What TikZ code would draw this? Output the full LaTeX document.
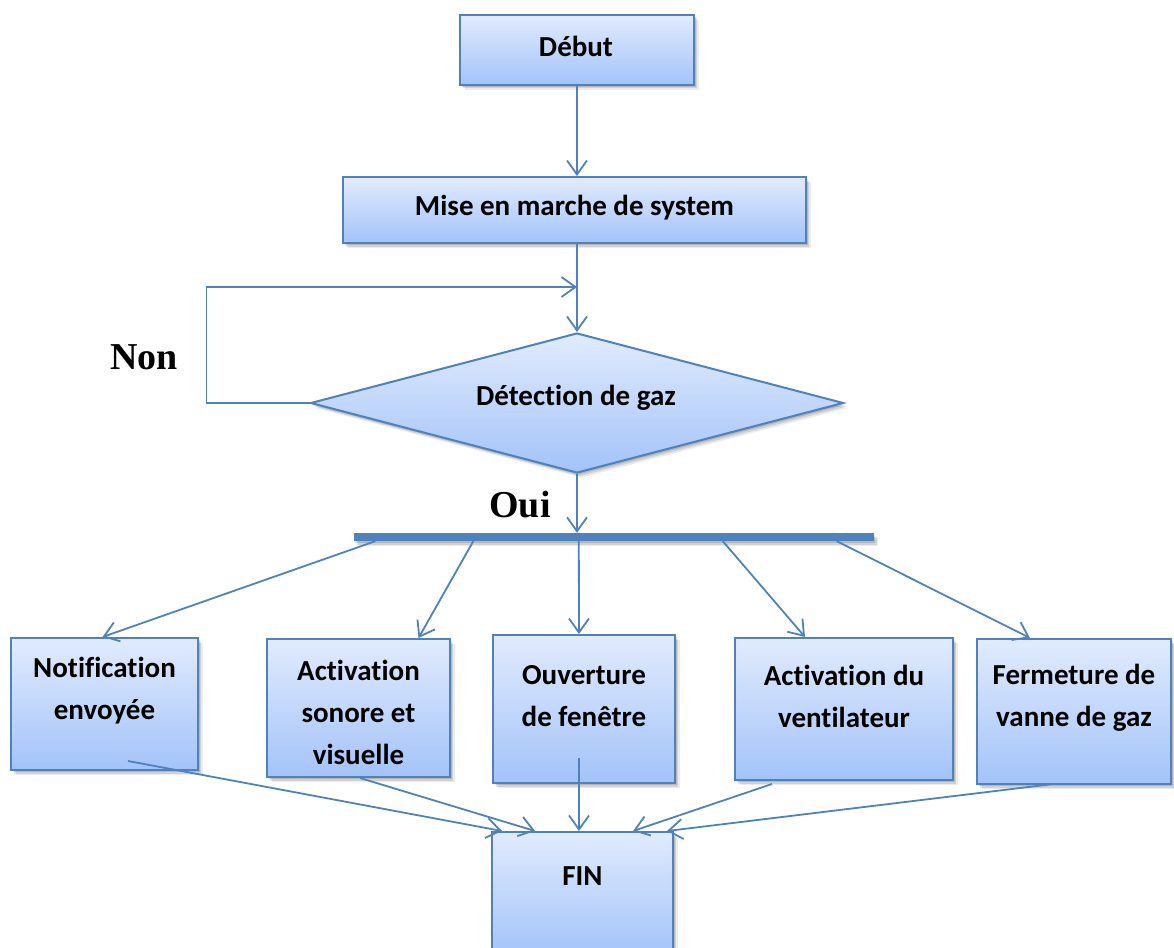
\documentclass[tikz,border=0pt]{standalone}
\usepackage{fontspec}
\setmainfont{Carlito}[Ligatures={NoCommon}]
\newfontfamily\serifword{Liberation Serif}
\usetikzlibrary{arrows.meta,shapes.geometric,shadows,calc}

\definecolor{edge}{RGB}{79,129,189}
\definecolor{filltop}{RGB}{225,235,253}
\definecolor{fillbot}{RGB}{163,195,249}

\tikzset{
  softshadow/.style={
    drop shadow={opacity=.13,shadow xshift=1.5pt,shadow yshift=-2pt,fill=black},
    drop shadow={opacity=.11,shadow xshift=3pt,shadow yshift=-3.5pt,fill=black},
    drop shadow={opacity=.08,shadow xshift=4.5pt,shadow yshift=-5pt,fill=black}},
  box/.style={rectangle,draw=edge,line width=2pt,top color=filltop,bottom color=fillbot,
    inner sep=0pt,softshadow},
  decision/.style={diamond,draw=edge,line width=2pt,top color=filltop,bottom color=fillbot,
    inner sep=0pt,softshadow},
  boxtext/.style={font=\bfseries\fontsize{29}{42}\selectfont,align=center,text=black,inner sep=0pt},
  bigword/.style={font=\serifword\bfseries\fontsize{38}{44}\selectfont,text=black,inner sep=0pt},
  conn/.style={draw=edge,line width=1.8pt},
  arr/.style={conn,-{Straight Barb[length=14pt,width=20pt]}},
}

\begin{document}
\begin{tikzpicture}[x=1pt,y=-1pt]
\useasboundingbox (0,0) rectangle (1174,947);

% boxes
\node[box,minimum width=234pt,minimum height=70pt] (debut) at (577,50) {};
\node[box,minimum width=463pt,minimum height=66pt] (mise) at (574.5,210) {};
\node[decision,minimum width=533pt,minimum height=140pt] (det) at (577,403) {};
\node[rectangle,fill=edge,minimum width=520pt,minimum height=8pt,inner sep=0pt,softshadow] (bar) at (613.5,537) {};
\node[box,minimum width=187pt,minimum height=132pt] (notif) at (104.5,704) {};
\node[box,minimum width=183pt,minimum height=138pt] (act) at (358.5,708) {};
\node[box,minimum width=182pt,minimum height=148pt] (ouv) at (584,709) {};
\node[box,minimum width=218pt,minimum height=142pt] (vent) at (844,709) {};
\node[box,minimum width=194pt,minimum height=145pt] (ferm) at (1074,711.5) {};
\node[box,minimum width=181pt,minimum height=124pt] (fin) at (582.5,894) {};

% texts
\node[boxtext] (tdebut) at (576,46) {Début};
\node[boxtext] (tmise) at (574.5,208) {Mise en marche de system};
\node[boxtext] (tdet) at (576,398) {Détection de gaz};
\node[boxtext] (tnotif) at (104.5,691) {Notification\\envoyée};
\node[boxtext] (tact) at (358.5,712) {Activation\\sonore et\\visuelle};
\node[boxtext] (touv) at (584,696) {Ouverture\\de fenêtre};
\node[boxtext] (tvent) at (844,696) {Activation du\\ventilateur};
\node[boxtext] (tferm) at (1074,698) {Fermeture de\\vanne de gaz};
\node[boxtext] (tfin) at (582.5,876) {FIN};
\node[bigword] (tnon) at (144,357) {Non};
\node[bigword] (toui) at (520,505) {Oui};

% main flow
\coordinate (merge) at (577,287);
\draw[arr] (debut.south) -- (debut.south |- mise.north);
\draw[arr] (det.north |- mise.south) -- (det.north);
\draw[arr] (det.west) -- ++(-103,0) |- (merge);
\draw[arr] (det.south) -- (det.south |- bar.north);

% fan-out from the bar
\draw[arr] ($(bar.south west)+(22,0)$) -- ($(notif.north)+(-2,0)$);
\draw[arr] ($(bar.south west)+(120,0)$) -- ($(act.north)+(60,0)$);
\draw[arr] ($(bar.south west)+(225.5,0)$) -- ($(ouv.north)+(-5,0)$);
\draw[arr] ($(bar.south west)+(369.5,0)$) -- ($(vent.north)+(-39,0)$);
\draw[arr] ($(bar.south west)+(483.5,0)$) -- ($(ferm.north)+(-44,0)$);

% fan-in to FIN
\draw[arr] ($(notif.south)+(23.5,-10)$) -- ($(fin.north)+(-80.5,0)$);
\draw[arr] ($(act.south)+(1.5,0)$) -- ($(fin.north)+(-47.5,0)$);
\draw[arr] ($(ouv.south)+(-5,-26)$) -- ($(fin.north)+(-3.5,0)$);
\draw[arr] ($(vent.south)+(-72,3)$) -- ($(fin.north)+(50.5,0)$);
\draw[arr] ($(ferm.south)+(-21,-1)$) -- ($(fin.north)+(84.5,0)$);
\end{tikzpicture}
\end{document}
